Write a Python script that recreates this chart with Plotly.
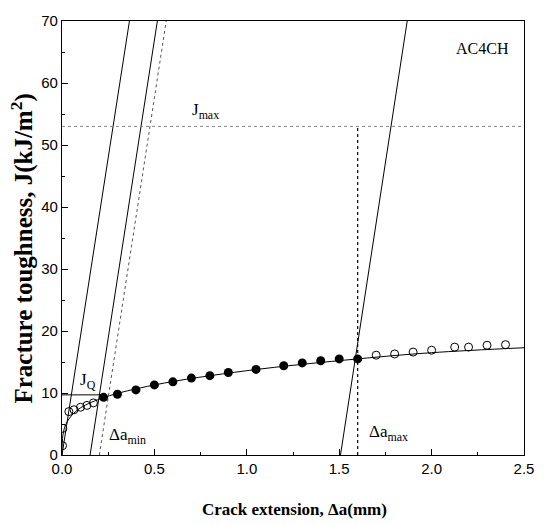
import plotly.graph_objects as go

# Data
filled_x = [0.225, 0.30, 0.40, 0.50, 0.60, 0.70, 0.80, 0.90, 1.05, 1.20, 1.30, 1.40, 1.50, 1.60]
filled_y = [9.3, 9.8, 10.5, 11.3, 11.8, 12.4, 12.8, 13.3, 13.8, 14.4, 14.85, 15.2, 15.5, 15.5]

open_x = [0.003, 0.005, 0.037, 0.065, 0.10, 0.135, 0.17,
          1.70, 1.80, 1.90, 2.00, 2.125, 2.20, 2.30, 2.40]
open_y = [1.5, 4.3, 7.0, 7.3, 7.7, 8.0, 8.4,
          16.1, 16.3, 16.6, 16.9, 17.4, 17.4, 17.7, 17.8]

fit_x = [0.0, 0.005, 0.02, 0.05, 0.10, 0.23, 0.50, 1.00, 1.60, 2.00, 2.50]
fit_y = [0.0, 3.2, 4.9, 6.3, 7.6, 9.3, 11.3, 13.6, 15.5, 16.5, 17.3]

blunt_x = [0.0, 0.365]
blunt_y = [0.0, 70.0]
excl1_x = [0.152, 0.516]
excl1_y = [0.0, 70.0]
excl_dot_x = [0.202, 0.564]
excl_dot_y = [0.0, 70.0]
excl2_x = [1.507, 1.868]
excl2_y = [0.0, 70.0]

jq_x = [0.0, 0.225]
jq_y = [9.7, 9.7]
jmax_x = [0.0, 2.5]
jmax_y = [53.0, 53.0]
damax_x = [1.6, 1.6]
damax_y = [0.0, 53.0]

x_ticks = [0.0, 0.5, 1.0, 1.5, 2.0, 2.5]
y_ticks = [0, 10, 20, 30, 40, 50, 60, 70]

fig = go.Figure()
solid = dict(color="black", width=1)
dotted = dict(color="#555555", width=1, dash="dot")

fig.add_trace(go.Scatter(x=blunt_x, y=blunt_y, mode="lines", line=solid))
fig.add_trace(go.Scatter(x=excl1_x, y=excl1_y, mode="lines", line=solid))
fig.add_trace(go.Scatter(x=excl_dot_x, y=excl_dot_y, mode="lines", line=dotted))
fig.add_trace(go.Scatter(x=excl2_x, y=excl2_y, mode="lines", line=solid))
fig.add_trace(go.Scatter(x=jq_x, y=jq_y, mode="lines", line=solid))
fig.add_trace(go.Scatter(x=jmax_x, y=jmax_y, mode="lines", line=dict(color="#888888", width=1, dash="dot")))
fig.add_trace(go.Scatter(x=damax_x, y=damax_y, mode="lines", line=dict(color="black", width=1.2, dash="dot")))
fig.add_trace(go.Scatter(x=fit_x, y=fit_y, mode="lines", line=dict(color="black", width=1, shape="spline")))
fig.add_trace(go.Scatter(x=open_x, y=open_y, mode="markers",
                         marker=dict(symbol="circle-open", size=8, color="black", line=dict(width=1))))
fig.add_trace(go.Scatter(x=filled_x, y=filled_y, mode="markers",
                         marker=dict(symbol="circle", size=9, color="black")))

serif = "Liberation Serif"
ann_font = dict(family=serif, size=17, color="black")
fig.add_annotation(x=0.085, y=12.0, text="J<sub>Q</sub>", showarrow=False, xanchor="left", font=ann_font)
fig.add_annotation(x=0.245, y=3.0, text="Δa<sub>min</sub>", showarrow=False, xanchor="left", font=ann_font)
fig.add_annotation(x=1.65, y=3.6, text="Δa<sub>max</sub>", showarrow=False, xanchor="left", font=ann_font)
fig.add_annotation(x=0.69, y=55.5, text="J<sub>max</sub>", showarrow=False, xanchor="left", font=ann_font)
fig.add_annotation(x=2.277, y=65.5, text="AC4CH", showarrow=False, font=dict(family=serif, size=16, color="black"))

# Axis titles placed as annotations for exact positioning
fig.add_annotation(xref="paper", yref="paper", x=-0.085, y=0.475, textangle=-90,
                   xanchor="center", yanchor="middle",
                   text="<b>Fracture toughness, J(kJ/m<sup>2</sup>)</b>", showarrow=False,
                   font=dict(family=serif, size=25, color="black"))
fig.add_annotation(xref="paper", yref="paper", x=0.503, y=-0.125,
                   xanchor="center", yanchor="middle",
                   text="<b>Crack extension, Δa(mm)</b>", showarrow=False,
                   font=dict(family=serif, size=17, color="black"))

axis_common = dict(showgrid=False, zeroline=False, showline=True, linecolor="black", linewidth=1.2,
                   mirror=True, ticks="inside", tickcolor="black", ticklen=6, tickwidth=1,
                   tickfont=dict(family="Liberation Sans", size=15, color="black"))

fig.update_xaxes(range=[0, 2.5], tickvals=x_ticks, ticktext=[f"{v:.1f}" for v in x_ticks],
                 minor=dict(dtick=0.25, ticks="inside", ticklen=3, tickcolor="black"),
                 **axis_common)
fig.update_yaxes(range=[0, 70], tickvals=y_ticks, ticktext=[str(v) for v in y_ticks],
                 minor=dict(dtick=5, ticks="inside", ticklen=3, tickcolor="black"),
                 **axis_common)

fig.update_layout(width=546, height=525, margin=dict(l=62, r=13, t=15, b=70),
                  plot_bgcolor="white", paper_bgcolor="white", showlegend=False)

fig.write_html("out.html")
